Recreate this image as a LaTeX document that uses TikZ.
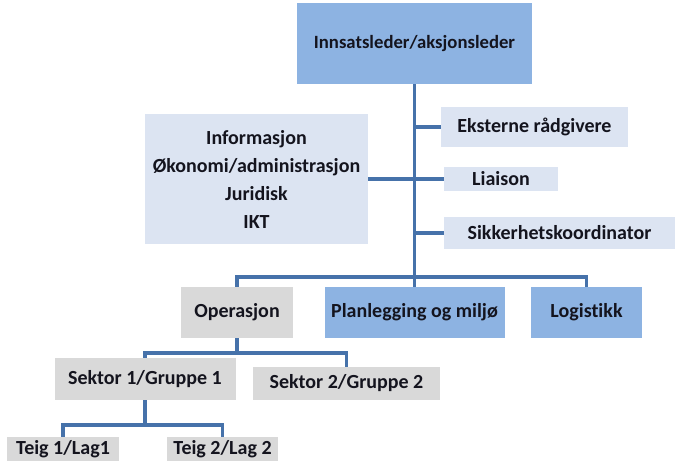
\documentclass[tikz,border=0pt]{standalone}
\usepackage{fontspec}
\setmainfont{Carlito}[Ligatures={NoCommon}]
\definecolor{midblue}{HTML}{8DB3E2}
\definecolor{paleblue}{HTML}{DCE4F2}
\definecolor{palegray}{HTML}{D9D9D9}
\definecolor{linecol}{HTML}{4672AA}
\definecolor{txtcol}{HTML}{14141E}
\tikzset{
  orgbox/.style={rectangle, inner sep=0pt, text=txtcol, align=center, font=\fontsize{20}{28}\selectfont\bfseries},
  bluebox/.style={orgbox, fill=midblue},
  palebox/.style={orgbox, fill=paleblue},
  graybox/.style={orgbox, fill=palegray},
  conn/.style={draw=linecol, line width=3.2pt}
}
\begin{document}
\begin{tikzpicture}[x=1pt,y=-1pt]
\useasboundingbox (0,0) rectangle (677,461);
\fill[white] (0,0) rectangle (677,461);

\node[bluebox, minimum width=235pt, minimum height=81pt, font=\fontsize{18.7}{24}\selectfont\bfseries] (top) at (414.5,43.5) {Innsatsleder/aksjonsleder};
\node[palebox, minimum width=187pt, minimum height=40pt] (eks) at (534.5,127) {Eksterne rådgivere};
\node[palebox, minimum width=114pt, minimum height=24pt] (lia) at (501,179) {Liaison};
\node[palebox, minimum width=231pt, minimum height=32pt] (sik) at (559.5,233) {Sikkerhetskoordinator};
\node[palebox, minimum width=223pt, minimum height=130pt] (left) at (256.5,179) {Informasjon\\Økonomi/administrasjon\\Juridisk\\IKT};

\node[graybox, minimum width=112pt, minimum height=51pt] (ope) at (237,312.5) {Operasjon};
\node[bluebox, minimum width=180pt, minimum height=51pt] (pla) at (414.5,312.5) {Planlegging og miljø};
\node[bluebox, minimum width=111pt, minimum height=51pt] (log) at (586.5,312.5) {Logistikk};

\node[graybox, minimum width=181pt, minimum height=42pt] (s1) at (145,379) {Sektor 1/Gruppe 1};
\node[graybox, minimum width=187pt, minimum height=33pt] (s2) at (346.5,383.5) {Sektor 2/Gruppe 2};

\node[graybox, minimum width=112pt, minimum height=24pt] (t1) at (63,449) {Teig 1/Lag1};
\node[graybox, minimum width=111pt, minimum height=24pt] (t2) at (222.5,449) {Teig 2/Lag 2};

\coordinate (bar1) at (0,277);
\coordinate (bar2) at (0,353);
\coordinate (bar3) at (0,425);

% trunk and side branches
\draw[conn] (top.south) -- (pla.north);
\draw[conn] (top.south |- eks.west) -- (eks.west);
\draw[conn] (top.south |- lia.west) -- (lia.west);
\draw[conn] (top.south |- sik.west) -- (sik.west);
\draw[conn] (left.east) -- (top.south |- left.east);

% level 1
\draw[conn] (ope.north) -- (ope.north |- bar1) -- (log.north |- bar1) -- (log.north);

% level 2
\draw[conn] (ope.south) -- (ope.south |- bar2);
\draw[conn] (s1.north) -- (s1.north |- bar2) -- (s2.north |- bar2) -- (s2.north);

% level 3
\draw[conn] (s1.south) -- (s1.south |- bar3);
\draw[conn] (t1.north) -- (t1.north |- bar3) -- (t2.north |- bar3) -- (t2.north);
\end{tikzpicture}
\end{document}
